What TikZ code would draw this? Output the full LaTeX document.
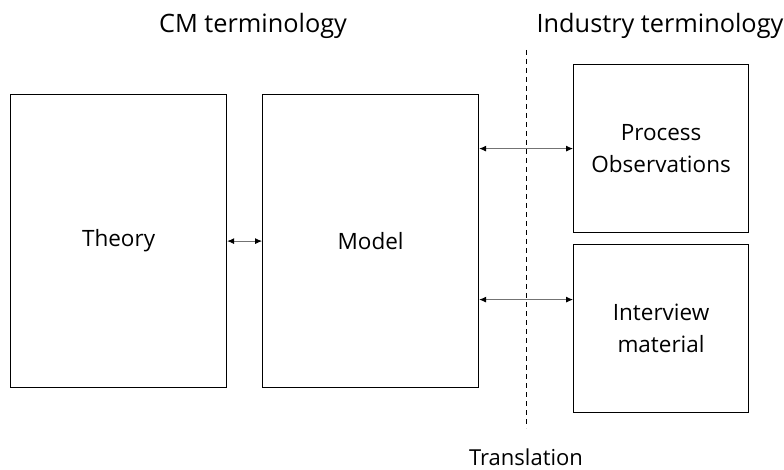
\documentclass[tikz,border=0pt]{standalone}
\usepackage{fontspec}
\setmainfont{Open Sans}
\usetikzlibrary{arrows.meta}
\begin{document}
\begin{tikzpicture}[x=1pt,y=-1pt,
  box/.style={draw, line width=1.2pt, inner sep=0pt, anchor=north west, align=center, font=\fontsize{22.5}{32}\selectfont},
  link/.style={draw=black!55, line width=0.8pt, {Latex[length=7pt,width=6pt,black]}-{Latex[length=7pt,width=6pt,black]}},
  heading/.style={font=\fontsize{25.3}{30}\selectfont, anchor=base}]
  \useasboundingbox (0,0) rectangle (784,470);
  \node[box, minimum width=216pt, minimum height=293pt] (theory) at (10,94) {Theory};
  \node[box, minimum width=216pt, minimum height=293pt] (model) at (262,94) {Model};
  \node[box, minimum width=175pt, minimum height=168pt] (proc) at (573,64) {Process\\Observations};
  \node[box, minimum width=175pt, minimum height=168pt] (intv) at (573,244) {Interview\\material};
  \coordinate (dtop) at (526,50);
  \coordinate (dbot) at (526,428);
  \draw[line width=1pt, dash pattern=on 5pt off 4pt] (dtop) -- (dbot);
  \node[heading] (cm) at (253,33) {CM terminology};
  \node[heading] (ind) at (660,33) {Industry terminology};
  \node[heading, font=\fontsize{22}{26}\selectfont] (tr) at (526,465) {Translation};
  \draw[link] (theory.east) -- (model.east -| model.west);
  \draw[link] (model.east |- proc.west) -- (proc.west);
  \coordinate (iy) at ([yshift=29pt]intv.west);
  \draw[link] (model.east |- iy) -- (iy);
\end{tikzpicture}
\end{document}
